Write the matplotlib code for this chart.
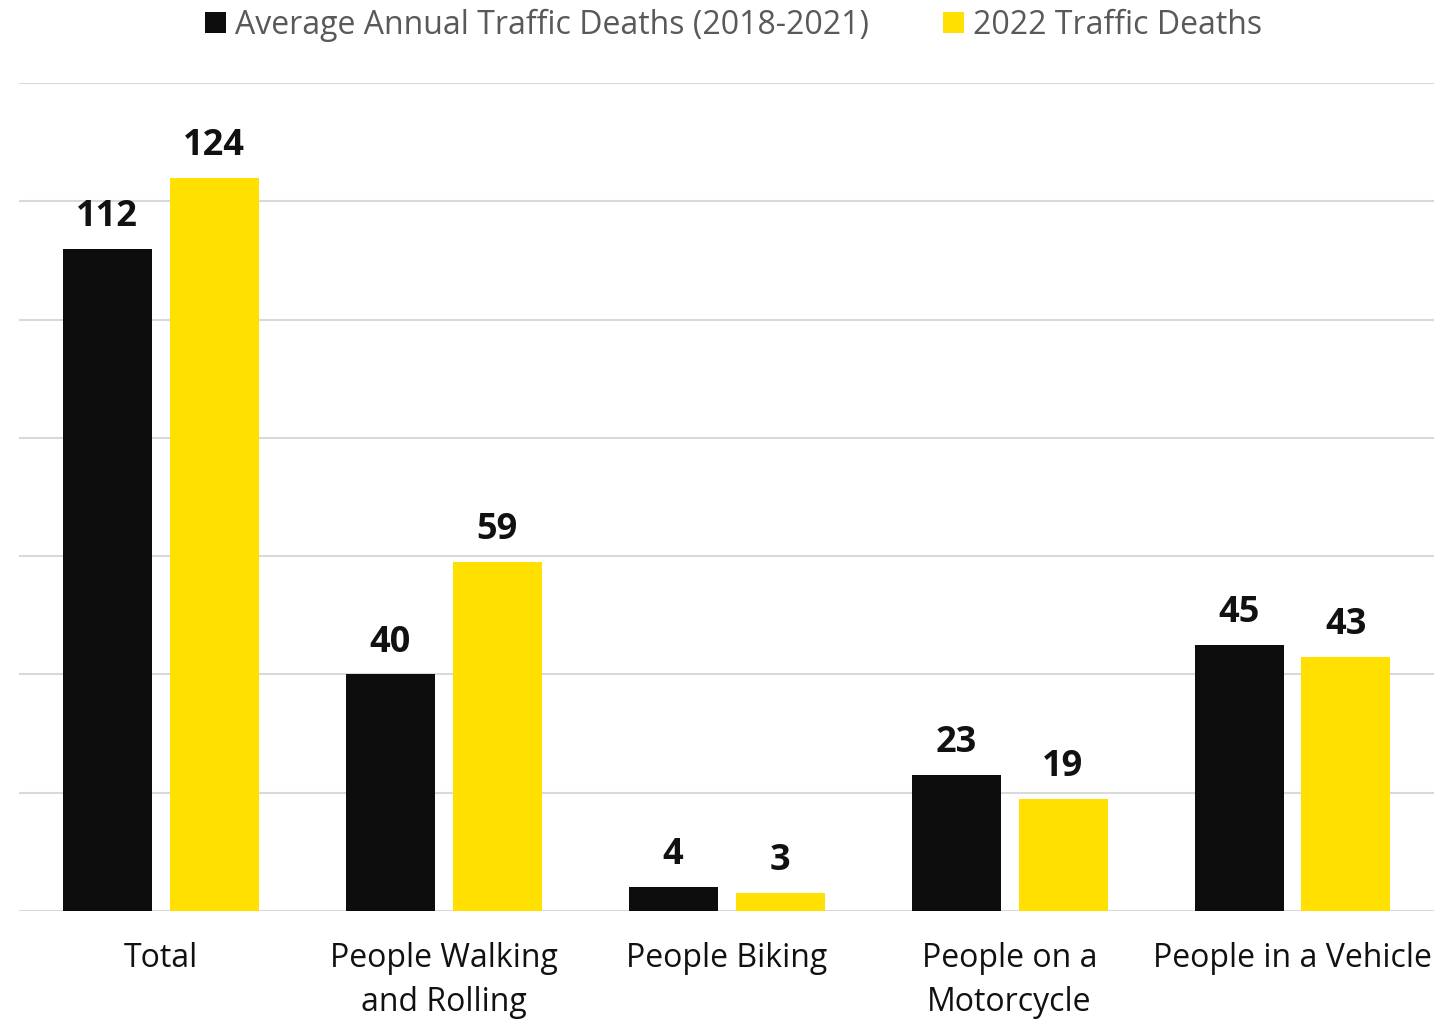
import matplotlib.pyplot as plt
import numpy as np

plt.rcParams['font.family'] = ['Open Sans', 'DejaVu Sans']

categories = ['Total', 'People Walking\nand Rolling', 'People Biking',
              'People on a\nMotorcycle', 'People in a Vehicle']
avg_2018_2021 = [112, 40, 4, 23, 45]
deaths_2022 = [124, 59, 3, 19, 43]
series_names = ['Average Annual Traffic Deaths (2018-2021)', '2022 Traffic Deaths']

black = '#0d0d0d'
yellow = '#ffe000'

fig = plt.figure(figsize=(14.53, 10.19), dpi=100)
ax = fig.add_axes([19 / 1453, 108 / 1019, 1415 / 1453, 828 / 1019])

x = np.arange(len(categories))
w = 89 / 283
off = 53.5 / 283
b1 = ax.bar(x - off, avg_2018_2021, w, color=black, label=series_names[0], zorder=3)
b2 = ax.bar(x + off, deaths_2022, w, color=yellow, label=series_names[1], zorder=3)

for bars in (b1, b2):
    for rect in bars:
        h = rect.get_height()
        ax.annotate(f'{h:g}', (rect.get_x() + rect.get_width() / 2, h),
                    xytext=(0, 10), textcoords='offset points',
                    ha='center', va='bottom', fontsize=26, fontweight='bold',
                    color='#111111')

ax.set_xlim(-0.5, len(categories) - 0.5)
ax.set_ylim(0, 140)
ax.set_yticks(range(0, 141, 20))
ax.yaxis.grid(True, color='#d9d9d9', linewidth=1.5, zorder=0)
ax.tick_params(axis='y', left=False, labelleft=False)
ax.set_xticks(x)
ax.set_xticklabels(categories, fontsize=23, color='#111111', linespacing=1.45)
ax.tick_params(axis='x', length=0, pad=22)
for s in ax.spines.values():
    s.set_visible(False)

fig.legend(handles=[b1, b2], labels=series_names, loc='upper center',
           bbox_to_anchor=(0.505, 1.02), ncol=2, frameon=False, fontsize=23,
           labelcolor='#595959', handlelength=0.65, handleheight=0.65,
           handletextpad=0.3, columnspacing=2.3)

fig.savefig('out.png', dpi=100)
